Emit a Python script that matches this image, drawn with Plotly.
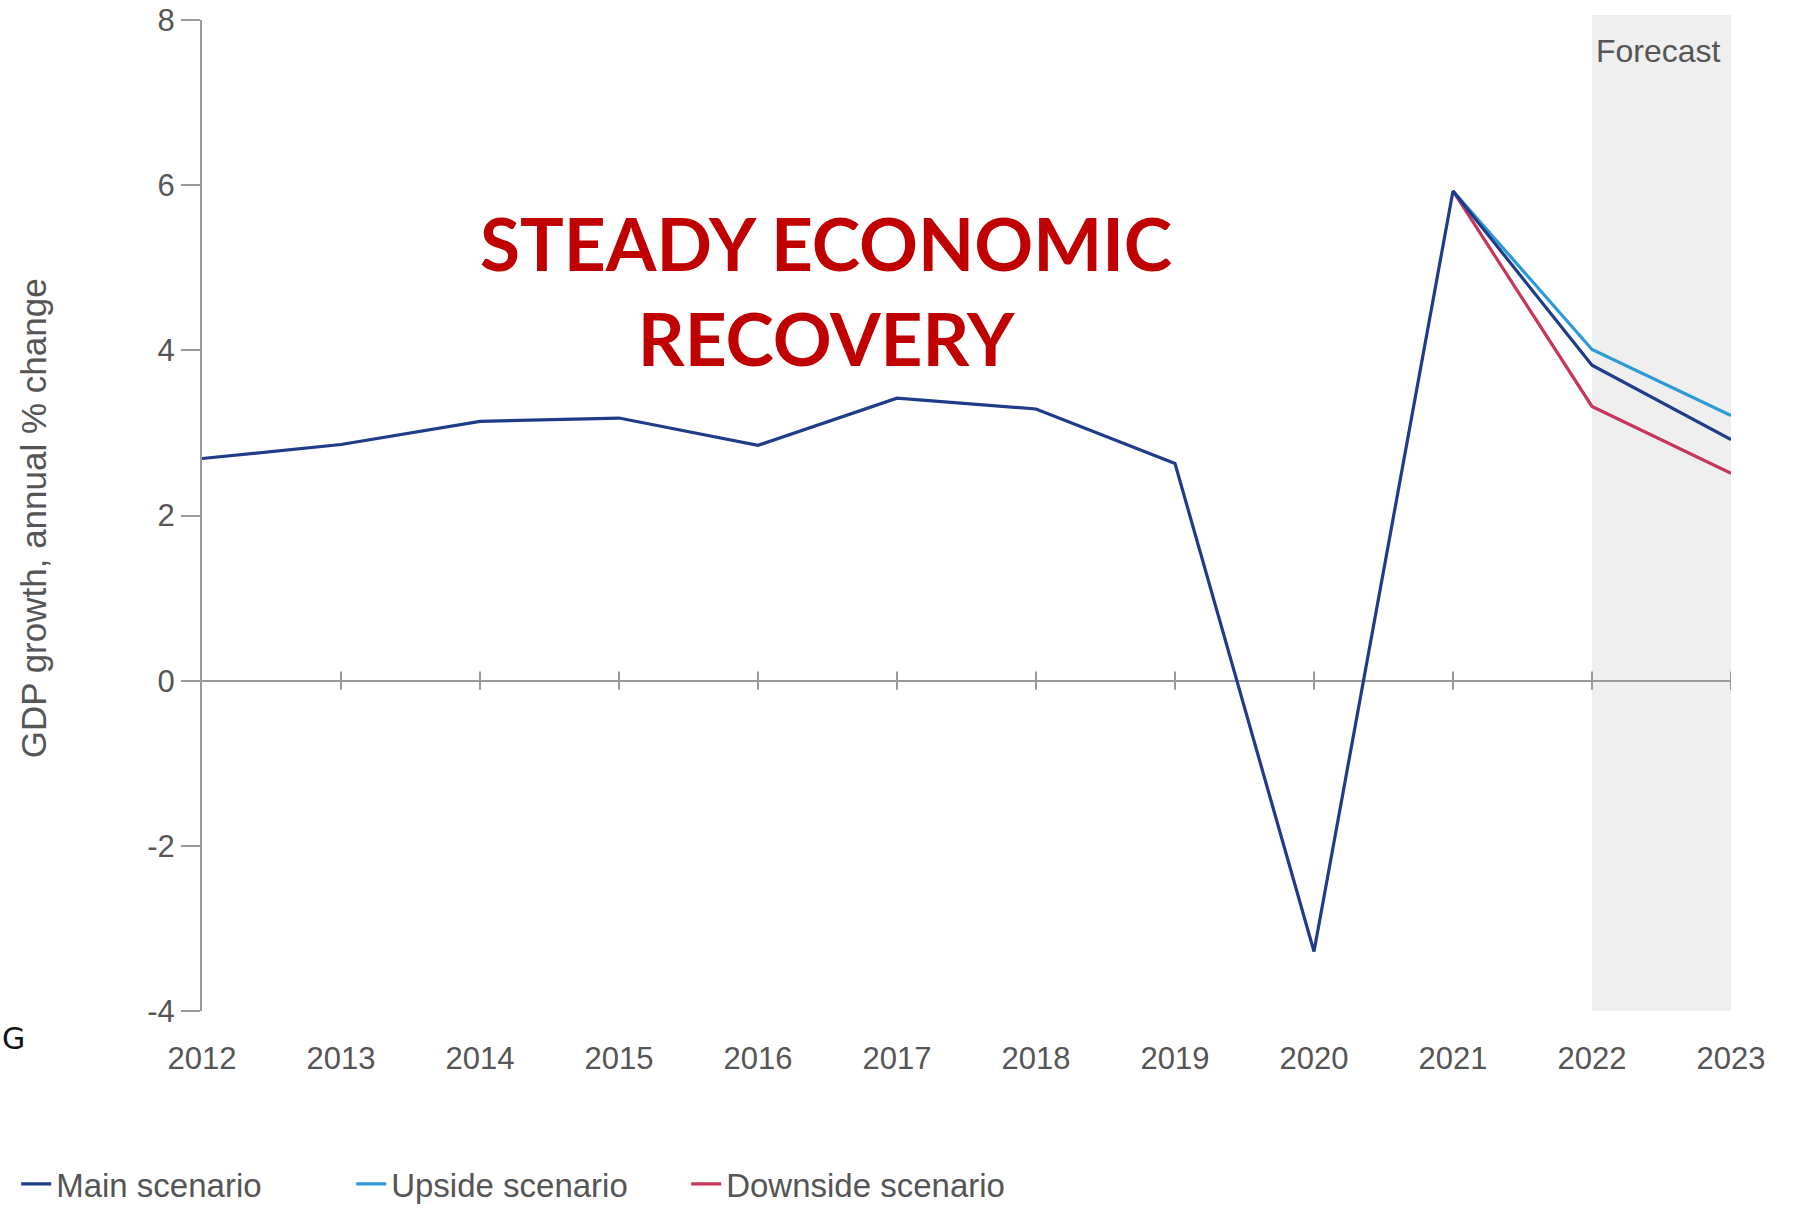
import plotly.graph_objects as go

years = [2012, 2013, 2014, 2015, 2016, 2017, 2018, 2019, 2020, 2021, 2022, 2023]
main_scenario = [2.69, 2.86, 3.14, 3.18, 2.85, 3.42, 3.29, 2.63, -3.28, 5.93, 3.82, 2.92]
forecast_years = [2021, 2022, 2023]
upside_scenario = [5.93, 4.01, 3.21]
downside_scenario = [5.93, 3.32, 2.51]
y_ticks = [-4, -2, 0, 2, 4, 6, 8]
y_ticktext = ["-4", "-2", "0", "2", "4", "6", "8"]

C_MAIN = "#1f3c88"
C_UP = "#2b9ad6"
C_DOWN = "#c7355a"
GREY = "#9a9a9a"
TXT = "#555555"
FONT = "Liberation Sans"

fig = go.Figure()
fig.add_trace(go.Scatter(x=forecast_years, y=upside_scenario, mode="lines", name="Upside scenario",
                         legendrank=2, line=dict(color=C_UP, width=3.2)))
fig.add_trace(go.Scatter(x=forecast_years, y=downside_scenario, mode="lines", name="Downside scenario",
                         legendrank=3, line=dict(color=C_DOWN, width=3.2)))
fig.add_trace(go.Scatter(x=years, y=main_scenario, mode="lines", name="Main scenario",
                         legendrank=1, line=dict(color=C_MAIN, width=3.2)))

shapes = [dict(type="rect", xref="x", yref="paper", x0=years[-2], x1=years[-1], y0=0, y1=1.005,
               fillcolor="#efeff0", line=dict(width=0), layer="below")]
for yr in years[1:]:
    shapes.append(dict(type="line", xref="x", yref="y", x0=yr, x1=yr, y0=-0.11, y1=0.11,
                       line=dict(color=GREY, width=2), layer="below"))
fig.update_layout(shapes=shapes)

fig.update_layout(
    width=1796, height=1212,
    margin=dict(l=202, r=65, t=20, b=201, autoexpand=False),
    paper_bgcolor="white", plot_bgcolor="rgba(0,0,0,0)",
    font=dict(family=FONT, color=TXT, size=31),
    xaxis=dict(range=[years[0], years[-1]], tickmode="array", tickvals=years,
               ticktext=[str(y) for y in years], showgrid=False, zeroline=False,
               showline=False, ticks="", ticklabelstandoff=26, automargin=False,
               tickfont=dict(size=31, color=TXT, family=FONT)),
    yaxis=dict(range=[-4, 8], tickmode="array", tickvals=y_ticks, ticktext=y_ticktext,
               showgrid=False, zeroline=True, zerolinecolor=GREY, zerolinewidth=2,
               showline=True, linecolor=GREY, linewidth=2, ticks="outside",
               ticklen=19, tickcolor=GREY, tickwidth=2, automargin=False,
               tickfont=dict(size=31, color=TXT, family=FONT)),
    showlegend=True,
    legend=dict(orientation="h", xref="container", yref="container",
                x=0.009, xanchor="left", y=0.0, yanchor="bottom",
                font=dict(size=33, color=TXT, family=FONT), bgcolor="rgba(0,0,0,0)",
                traceorder="normal", entrywidth=290, entrywidthmode="pixels"),
)

annotations = [
    dict(text="GDP growth, annual % change", textangle=-90, xref="paper", yref="paper",
         x=-0.11, y=0.497, xanchor="center", yanchor="middle", showarrow=False,
         font=dict(size=35, color=TXT, family=FONT)),
    dict(text="Forecast", xref="x", yref="y", x=years[-2], y=7.62, xanchor="left",
         yanchor="middle", xshift=2, showarrow=False,
         font=dict(size=32, color=TXT, family=FONT)),
    dict(text="<b>STEADY ECONOMIC<br>RECOVERY</b>", xref="paper", yref="paper",
         x=(826 - 202) / 1529, y=(1011 - 290) / 991, xanchor="center", yanchor="middle",
         showarrow=False, font=dict(size=73, color="#c00000", family="Lato")),
    dict(text="G", xref="paper", yref="paper", x=0, y=(1011 - 1038) / 991, xanchor="left",
         yanchor="middle", xshift=-202, showarrow=False,
         font=dict(size=30, color="#111111", family="DejaVu Sans")),
]
fig.update_layout(annotations=annotations)

fig.write_html("out.html", post_script="document.body.style.margin='0';",
               config={"displayModeBar": False})
